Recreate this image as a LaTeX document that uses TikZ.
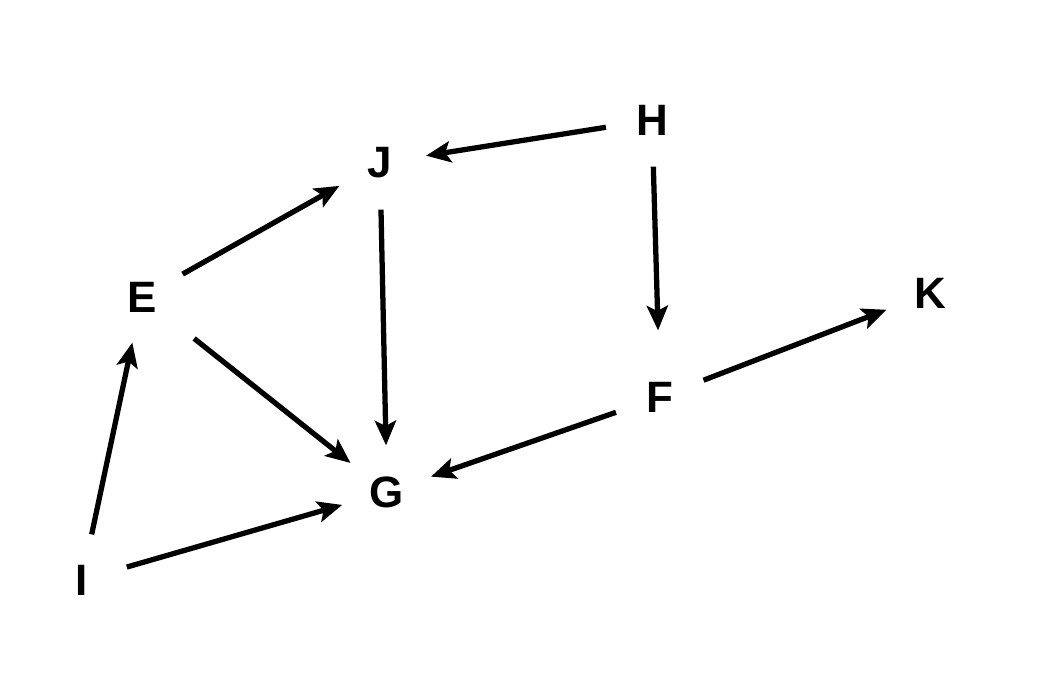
\documentclass[tikz,border=0pt]{standalone}
\usepackage{fontspec}
\setmainfont{Liberation Sans}
\usetikzlibrary{arrows.meta}

\begin{document}
\begin{tikzpicture} [->,>={Stealth[length=7pt,width=6pt,inset=1.5pt]},line width=1.5pt,
	vert/.style={circle,inner sep=0pt,minimum size=0.88cm,font=\fontsize{12.5}{14}\selectfont\bfseries}]
	\useasboundingbox (0,0) rectangle (10.41,6.99);
	\node[vert] (H) at (6.52,5.79) {H};
	\node[vert] (J) at (3.80,5.36) {J};
	\node[vert] (E) at (1.42,4.02) {E};
	\node[vert] (K) at (9.30,4.06) {K};
	\node[vert] (F) at (6.60,3.02) {F};
	\node[vert] (G) at (3.87,2.07) {G};
	\node[vert] (I) at (0.82,1.19) {I};
	
	\path
	(H) edge (J)
	edge[shorten >=0.2cm] (F)
	(J) edge (G)
	(E) edge (J)
	edge[shorten <=0.2cm] (G)
	(F) edge (K)
	edge (G)
	(I) edge (E)
	edge (G);
\end{tikzpicture}
\end{document}
